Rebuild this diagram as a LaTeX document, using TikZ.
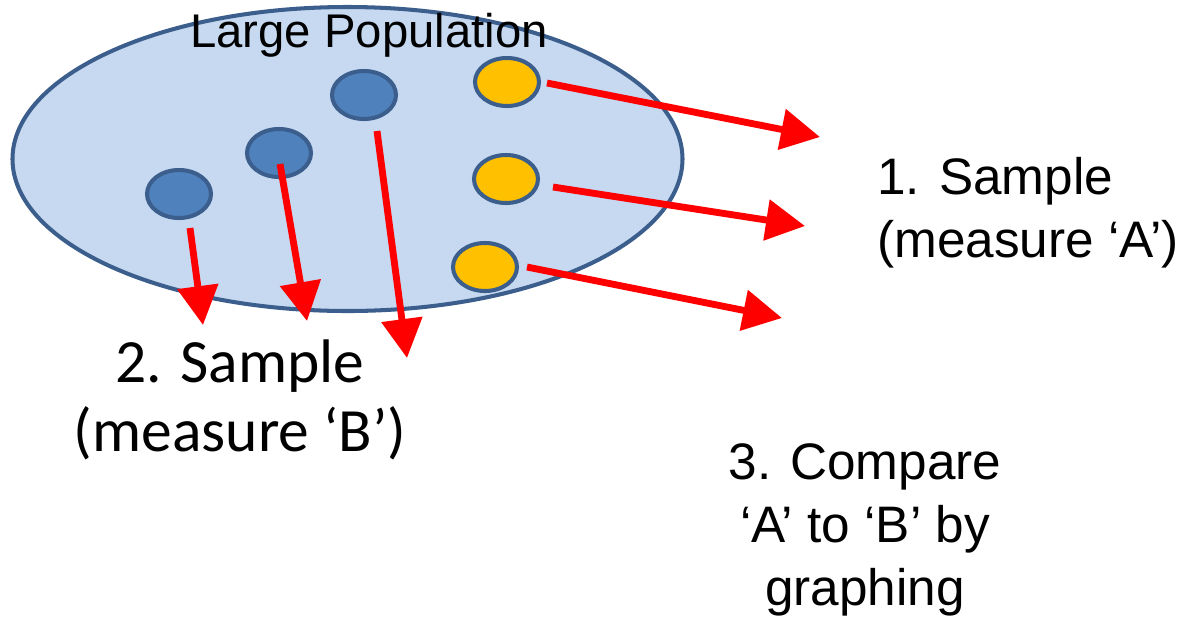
\documentclass[tikz,border=0pt]{standalone}
\usepackage{fontspec}
\setmainfont{Liberation Sans}
\newfontfamily\calibrifont{Carlito}
\usetikzlibrary{arrows.meta,shapes.geometric,positioning}
\definecolor{popfill}{HTML}{C6D9F1}
\definecolor{popedge}{HTML}{3B5E8C}
\definecolor{dotblue}{HTML}{4F81BD}
\definecolor{dotyellow}{HTML}{FFC000}
\definecolor{arrowred}{HTML}{FF0000}

\begin{document}
\begin{tikzpicture}[x=1cm,y=1cm]
\tikzset{
  population/.style={ellipse,draw=popedge,fill=popfill,line width=2.3pt,minimum width=13.4cm,minimum height=6.08cm,inner sep=0pt},
  dot/.style={ellipse,draw=popedge,line width=2.3pt,minimum width=1.28cm,minimum height=0.96cm,inner sep=0pt},
  bluedot/.style={dot,fill=dotblue},
  yellowdot/.style={dot,fill=dotyellow},
  samplearrow/.style={draw=arrowred,line width=3.9pt,-{Triangle[length=7.8mm,width=8mm]}},
  label/.style={inner sep=0pt,font=\fontsize{29.2}{36}\selectfont}
}
\useasboundingbox (0,0) rectangle (23.8,-12.4);
\node[population] (n_pop) at (6.95,-3.18) {};
\node[inner sep=0pt,font=\fontsize{26.9}{30}\selectfont] (n_title) at (7.38,-0.70) {Large Population};
\node[bluedot] (n_b1) at (3.58,-3.88) {};
\node[bluedot] (n_b2) at (5.58,-3.06) {};
\node[bluedot] (n_b3) at (7.28,-1.90) {};
\node[yellowdot] (n_y1) at (10.14,-1.64) {};
\node[yellowdot] (n_y2) at (10.12,-3.58) {};
\node[yellowdot] (n_y3) at (9.70,-5.34) {};
% arrow ends
\coordinate (c_y1s) at (10.94,-1.66);
\coordinate (c_y1e) at (16.40,-2.74);
\coordinate (c_y2s) at (11.06,-3.74);
\coordinate (c_y2e) at (16.10,-4.52);
\coordinate (c_y3s) at (10.54,-5.34);
\coordinate (c_y3e) at (15.64,-6.36);
\coordinate (c_b1s) at (3.80,-4.56);
\coordinate (c_b1e) at (4.06,-6.50);
\coordinate (c_b2s) at (5.60,-3.28);
\coordinate (c_b2e) at (6.14,-6.42);
\coordinate (c_b3s) at (7.54,-2.62);
\coordinate (c_b3e) at (8.14,-7.16);
\draw[samplearrow] (c_y1s) -- (c_y1e);
\draw[samplearrow] (c_y2s) -- (c_y2e);
\draw[samplearrow] (c_y3s) -- (c_y3e);
\draw[samplearrow] (c_b1s) -- (c_b1e);
\draw[samplearrow] (c_b2s) -- (c_b2e);
\draw[samplearrow] (c_b3s) -- (c_b3e);
% texts
\node[label,anchor=west,align=left] (n_sampleA) at (17.54,-4.26) {1. Sample\\(measure ‘A’)};
\node[inner sep=0pt,align=center,font=\calibrifont\fontsize{35}{39.7}\selectfont] (n_sampleB) at (4.80,-8.00) {2. Sample\\(measure ‘B’)};
\node[label,align=center] (n_compare) at (17.30,-10.60) {3. Compare\\‘A’ to ‘B’ by\\graphing};
\end{tikzpicture}
\end{document}
